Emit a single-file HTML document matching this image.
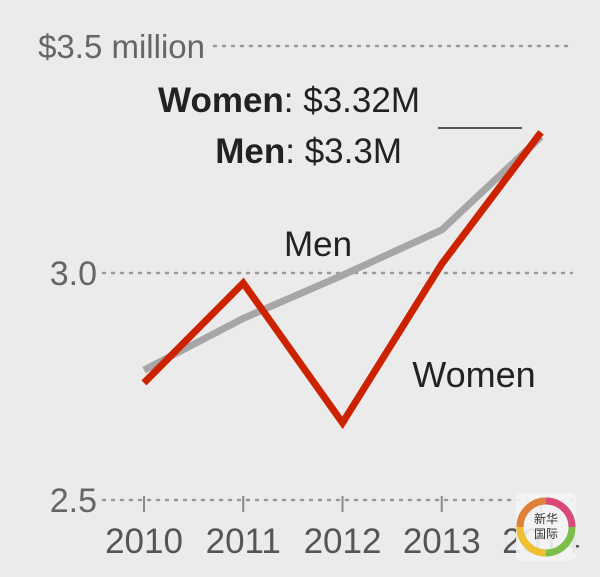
<!DOCTYPE html>
<html><head><meta charset="utf-8"><style>
body{margin:0;background:#ebebeb;}
svg{display:block;font-family:"Liberation Sans",sans-serif;}
</style></head><body>
<svg id="c" width="600" height="577">
<rect width="600" height="577" fill="#ebebeb"/>
</svg>
<script>
const years=[2010,2011,2012,2013,2014];
const women=[2.758,2.978,2.67,3.02,3.31];
const men=[2.786,2.90,2.995,3.095,3.30];
const yTicks=[3.5,3.0,2.5];
const yTickLabels=["$3.5 million","3.0","2.5"];
const svg=document.getElementById('c');
const NS='http://www.w3.org/2000/svg';
const x=v=>144+(v-2010)*99.25;
const y=v=>273-(v-3.0)*454;
function mk(t,a,p){const e=document.createElementNS(NS,t);for(const k in a)e.setAttribute(k,a[k]);(p||svg).appendChild(e);return e;}
yTicks.forEach((t,i)=>{
  const x0=i==0?214:103;
  const g=mk('line',{x1:x0,x2:572,y1:y(t),y2:y(t),stroke:'#999','stroke-width':2.5,'stroke-dasharray':'2 7','stroke-linecap':'round'});
  
  
  const tx=mk('text',{x:i==0?205:97,y:y(t)+12,'text-anchor':'end','font-size':i==0?33:34,fill:'#666'});
  tx.textContent=yTickLabels[i];
  
  
});
years.forEach(yr=>{
  const tk=mk('line',{x1:x(yr),x2:x(yr),y1:y(2.5)-4,y2:y(2.5)+12,stroke:'#888','stroke-width':2});
  
  
  const t=mk('text',{x:x(yr),y:553,'text-anchor':'middle','font-size':35,fill:'#555'});
  t.textContent=yr;
  
  
});
const pm=mk('polyline',{points:years.map((yr,i)=>x(yr)+','+y(men[i])).join(' '),fill:'none',stroke:'#a6a6a6','stroke-width':7,'stroke-linejoin':'miter'});


const pw=mk('polyline',{points:years.map((yr,i)=>x(yr)+','+y(women[i])).join(' '),fill:'none',stroke:'#cc2200','stroke-width':7,'stroke-linejoin':'miter'});


const ml=mk('text',{x:318,y:256,'text-anchor':'middle','font-size':35,fill:'#222'});ml.textContent='Men';


const wl=mk('text',{x:474,y:387,'text-anchor':'middle','font-size':36,fill:'#222'});wl.textContent='Women';


const a1=mk('text',{x:420,y:112,'text-anchor':'end','font-size':35,fill:'#222'});
a1.innerHTML='<tspan font-weight="bold">Women</tspan>: $3.32M';


const a2=mk('text',{x:402,y:163,'text-anchor':'end','font-size':35,fill:'#222'});
a2.innerHTML='<tspan font-weight="bold">Men</tspan>: $3.3M';


const ln=mk('line',{x1:438,x2:522,y1:128,y2:128,stroke:'#222','stroke-width':1.5});


const lg=mk('g',{});


mk('rect',{x:516,y:493,width:60,height:68,rx:6,fill:'#f4f4f4',opacity:0.9},lg);
mk('circle',{cx:546,cy:527,r:26,fill:'none',stroke:'#7bbf4a','stroke-width':7},lg);
mk('path',{d:'M546 501 A26 26 0 0 1 572 527',fill:'none',stroke:'#d94a7a','stroke-width':7},lg);
mk('path',{d:'M520 527 A26 26 0 0 1 546 501',fill:'none',stroke:'#e0803a','stroke-width':7},lg);
mk('path',{d:'M546 553 A26 26 0 0 1 520 527',fill:'none',stroke:'#f0c030','stroke-width':7},lg);
const lt=mk('text',{x:546,y:523,'text-anchor':'middle','font-size':12,fill:'#333','font-family':'"Noto Sans CJK SC",sans-serif'},lg);lt.textContent='新华';
const lt2=mk('text',{x:546,y:538,'text-anchor':'middle','font-size':12,fill:'#333','font-family':'"Noto Sans CJK SC",sans-serif'},lg);lt2.textContent='国际';
</script>
</body></html>
